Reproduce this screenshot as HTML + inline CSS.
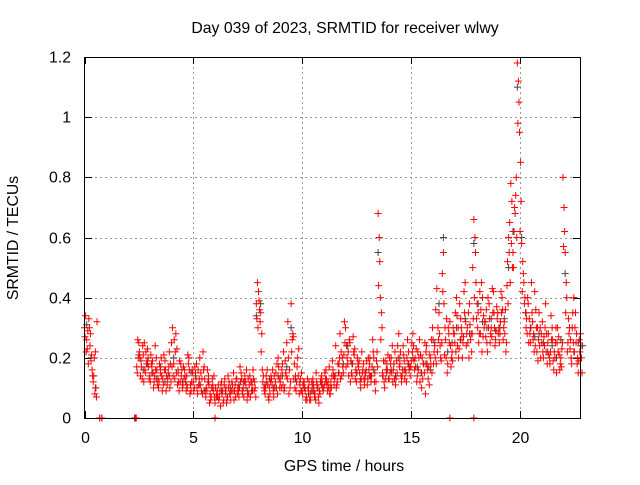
<!DOCTYPE html>
<html><head><meta charset="utf-8"><style>
html,body{margin:0;padding:0;background:#fff;}
svg text{font-family:"Liberation Sans",sans-serif;font-size:15.8px;fill:#000;}
</style></head><body>
<svg id="chart" width="640" height="480">
<rect width="640" height="480" fill="#fff"/>
<text x="345" y="33" text-anchor="middle">Day 039 of 2023, SRMTID for receiver wlwy</text>
<text x="344" y="471" text-anchor="middle">GPS time / hours</text>
<text transform="translate(18,238) rotate(-90)" text-anchor="middle">SRMTID / TECUs</text>
<g id="grid"></g><g id="axes"></g><g id="pts"></g>
<rect x="84.5" y="57.5" width="496" height="361" fill="none" stroke="#000" stroke-width="1"/>
</svg>
<script>
const xTicks=[0,5,10,15,20];
const yTicks=[0,0.2,0.4,0.6,0.8,1,1.2];
const yTickLabels=["0","0.2","0.4","0.6","0.8","1","1.2"];
const zeroTimes=[0.7,0.8,2.33,2.38,6.0,16.8,17.9];
const redA=[0.30,0.26,0.33,0.19,0.12,0.22,null,0,0,null,
null,null,null,null,null,null,null,null,null,null,
null,null,null,0,0.17,0.25,0.19,0.21,0.15,0.23,
0.14,0.17,0.12,0.20,0.10,0.15,0.13,0.19,0.11,0.22,
0.25,0.18,0.28,0.15,0.12,0.10,0.16,0.14,0.20,0.09,
0.12,0.15,0.08,0.20,0.13,0.17,0.10,0.14,0.06,0.11,
0.05,0.09,0.07,0.12,0.06,0.10,0.14,0.08,0.11,0.09,
0.13,0.07,0.15,0.10,0.12,0.08,0.14,0.11,0.09,0.38,
0.42,0.35,0.12,0.08,0.16,0.10,0.13,0.07,0.15,0.20,
0.12,0.18,0.10,0.25,0.08,0.38,0.27,0.14,0.20,0.11,
0.09,0.12,0.07,0.10,0.06,0.13,0.08,0.11,0.09,0.14,
0.10,0.16,0.12,0.08,0.19,0.13,0.11,0.18,0.22,0.15,
0.30,0.18,0.25,0.14,0.21,0.12,0.17,0.10,0.16,0.13,
0.11,0.18,0.14,0.20,0.12,0.68,0.40,0.15,0.10,0.18,
0.13,0.20,0.16,0.11,0.24,0.18,0.14,0.19,0.12,0.22,
0.17,0.28,0.20,0.14,0.26,0.10,0.18,0.22,0.13,0.20,
0.30,0.24,0.43,0.35,0.19,0.55,0.26,0.18,0.32,0.22,
0.28,0.40,0.20,0.33,0.25,0.45,0.30,0.38,0.22,0.66,
0.45,0.35,0.28,0.40,0.32,0.25,0.38,0.30,0.42,0.26,
0.35,0.28,0.40,0.32,0.25,0.60,0.78,0.55,0.68,1.18,
0.95,0.58,0.45,0.30,0.38,0.25,0.32,0.42,0.22,0.35,
0.28,0.20,0.38,0.25,0.18,0.30,0.22,0.15,0.27,0.20,
0.80,0.55,0.22,0.30,0.18,0.40,0.25,0.15,0.28,null];
const redB=[0.22,0.18,0.28,0.14,0.08,0.32,null,null,null,null,
null,null,null,null,null,null,null,null,null,null,
null,null,null,null,0.20,0.14,0.24,0.16,0.19,0.13,
0.18,0.10,0.16,0.13,0.17,0.09,0.16,0.14,0.17,0.12,
0.14,0.22,0.11,0.19,0.16,0.13,0.09,0.18,0.11,0.15,
0.17,0.10,0.13,0.09,0.16,0.07,0.12,0.08,0.13,0.07,
0.08,0.06,0.11,0.05,0.09,0.07,0.08,0.12,0.06,0.13,
0.09,0.12,0.08,0.14,0.06,0.11,0.09,0.13,0.07,0.30,
0.32,0.16,0.09,0.12,0.06,0.14,0.09,0.12,0.08,0.10,
0.16,0.09,0.14,0.20,0.12,0.28,0.10,0.17,0.08,0.15,
0.12,0.06,0.10,0.08,0.11,0.07,0.12,0.05,0.13,0.09,
0.13,0.09,0.08,0.14,0.11,0.10,0.15,0.13,0.17,0.25,
0.20,0.26,0.15,0.22,0.16,0.18,0.12,0.15,0.11,0.19,
0.16,0.12,0.22,0.09,0.17,0.52,0.30,0.12,0.16,0.13,
0.18,0.12,0.22,0.15,0.17,0.12,0.21,0.15,0.18,0.14,
0.22,0.16,0.12,0.20,0.15,0.18,0.08,0.16,0.21,0.15,
0.22,0.18,0.26,0.20,0.42,0.30,0.15,0.25,0.20,0.28,
0.22,0.30,0.26,0.20,0.35,0.28,0.20,0.28,0.33,0.55,
0.30,0.42,0.22,0.30,0.36,0.30,0.28,0.35,0.24,0.33,
0.25,0.35,0.30,0.22,0.38,0.45,0.50,0.70,0.60,1.05,
0.72,0.48,0.35,0.40,0.28,0.35,0.22,0.30,0.26,0.20,
0.22,0.30,0.18,0.20,0.26,0.16,0.30,0.22,0.18,0.25,
0.62,0.40,0.28,0.20,0.25,0.35,0.20,0.22,0.15,null];
const redC=[0.34,0.29,0.24,0.16,0.20,0.07,null,null,null,null,
null,null,null,null,null,null,null,null,null,null,
null,null,null,0,0.26,0.20,0.13,0.25,0.18,0.17,
0.21,0.15,0.24,0.11,0.18,0.14,0.21,0.09,0.15,0.18,
0.30,0.13,0.23,0.09,0.14,0.17,0.12,0.21,0.08,0.16,
0.10,0.18,0.11,0.15,0.22,0.09,0.16,0.05,0.10,0.14,
0.07,0.11,0.04,0.09,0.13,0.06,0.12,0.09,0.15,0.07,
0.10,0.17,0.09,0.12,0.16,0.08,0.12,0.16,0.10,0.45,
0.36,0.28,0.10,0.14,0.07,0.12,0.16,0.10,0.18,0.13,
0.10,0.22,0.15,0.32,0.10,0.26,0.18,0.12,0.23,0.09,
0.11,0.09,0.13,0.06,0.12,0.09,0.15,0.07,0.12,0.10,
0.15,0.11,0.17,0.10,0.14,0.24,0.18,0.28,0.20,0.32,
0.24,0.14,0.19,0.27,0.13,0.20,0.15,0.22,0.13,0.16,
0.20,0.14,0.26,0.15,0.22,0.60,0.35,0.19,0.13,0.21,
0.15,0.24,0.13,0.19,0.28,0.14,0.24,0.16,0.26,0.17,
0.25,0.19,0.23,0.16,0.21,0.13,0.25,0.18,0.11,0.26,
0.18,0.36,0.30,0.24,0.48,0.21,0.33,0.28,0.17,0.30,
0.35,0.24,0.38,0.28,0.42,0.24,0.35,0.26,0.50,0.60,
0.38,0.28,0.45,0.34,0.27,0.40,0.25,0.43,0.30,0.37,
0.30,0.42,0.26,0.36,0.52,0.65,0.72,0.62,0.80,1.12,
0.85,0.52,0.40,0.28,0.33,0.45,0.28,0.36,0.19,0.30,
0.32,0.24,0.28,0.21,0.34,0.19,0.25,0.30,0.16,0.23,
0.70,0.45,0.33,0.26,0.35,0.30,0.18,0.26,0.20,null];
const redD=[0.27,0.23,0.30,0.21,0.14,0.10,null,null,null,null,
null,null,null,null,null,null,null,null,null,null,
null,null,null,null,0.15,0.22,0.17,0.12,0.22,0.20,
0.12,0.19,0.14,0.16,0.12,0.20,0.11,0.16,0.13,0.10,
0.17,0.26,0.15,0.12,0.18,0.11,0.14,0.10,0.16,0.12,
0.09,0.13,0.16,0.11,0.08,0.13,0.09,0.11,0.07,0.09,
0.10,0.07,0.09,0.08,0.11,0.05,0.10,0.06,0.09,0.11,
0.08,0.10,0.13,0.07,0.10,0.13,0.07,0.09,0.12,0.33,
0.39,0.22,0.14,0.10,0.11,0.08,0.11,0.14,0.10,0.17,
0.14,0.11,0.19,0.13,0.16,0.22,0.13,0.09,0.14,0.13,
0.08,0.10,0.06,0.12,0.09,0.11,0.06,0.10,0.08,0.12,
0.11,0.13,0.10,0.12,0.16,0.14,0.12,0.20,0.14,0.21,
0.17,0.22,0.12,0.18,0.23,0.15,0.19,0.13,0.18,0.15,
0.13,0.20,0.17,0.12,0.19,0.44,0.26,0.14,0.19,0.16,
0.20,0.15,0.18,0.13,0.20,0.22,0.16,0.13,0.20,0.16,
0.19,0.24,0.17,0.22,0.12,0.20,0.15,0.24,0.17,0.18,
0.26,0.20,0.22,0.28,0.25,0.38,0.20,0.30,0.24,0.19,
0.25,0.34,0.23,0.30,0.27,0.32,0.25,0.31,0.28,0.40,
0.33,0.25,0.36,0.27,0.32,0.22,0.33,0.27,0.35,0.29,
0.28,0.32,0.36,0.28,0.44,0.55,0.58,0.50,0.74,0.98,
0.62,0.42,0.38,0.33,0.25,0.30,0.26,0.24,0.30,0.24,
0.25,0.27,0.22,0.28,0.22,0.26,0.20,0.25,0.21,0.17,
0.57,0.35,0.25,0.23,0.30,0.22,0.28,0.19,0.24,null];
const grayC=[0.31,0.20,0.10,null,null,null,null,null,null,null,
null,null,0.21,0.16,0.18,0.15,0.13,0.17,0.12,0.14,
0.20,0.16,0.12,0.11,0.15,0.14,0.11,0.09,0.12,0.10,
0.07,0.09,0.08,0.10,0.09,0.11,0.12,0.09,0.12,0.34,
0.38,0.11,0.13,0.10,0.14,0.14,0.17,0.30,0.13,0.12,
0.10,0.08,0.09,0.10,0.11,0.12,0.10,0.14,0.15,0.18,
0.24,0.18,0.15,0.13,0.15,0.14,0.16,0.55,0.14,0.15,
0.16,0.14,0.20,0.16,0.18,0.20,0.17,0.15,0.18,0.16,
0.25,0.38,0.60,0.22,0.25,0.30,0.26,0.33,0.28,0.58,
0.38,0.32,0.30,0.33,0.29,0.30,0.33,0.50,0.62,1.10,
0.60,0.35,0.30,0.27,0.28,0.25,0.22,0.24,0.20,0.26,
0.48,0.30,0.22,0.25,0.24];
const stepA=0.1, stepC=0.2;
const X0=84.5,PX=21.75,Y0=418,PY=300.8;
const xs=v=>X0+v*PX, ys=v=>Y0-v*PY;
const NS="http://www.w3.org/2000/svg";
const grid=document.getElementById('grid'),axes=document.getElementById('axes'),pts=document.getElementById('pts');
function mk(tag,at,parent){const e=document.createElementNS(NS,tag);for(const k in at)e.setAttribute(k,at[k]);parent.appendChild(e);return e;}
xTicks.forEach(t=>{const x=Math.round(xs(t))+0.5;
 if(t>0){const g=mk('line',{x1:x,x2:x,y1:57,y2:418,stroke:'#999','stroke-dasharray':'2,3'},grid);
 
 }
 mk('line',{x1:x,x2:x,y1:418,y2:411,stroke:'#000'},axes);
 mk('line',{x1:x,x2:x,y1:57,y2:64,stroke:'#000'},axes);
 const tx=mk('text',{x:x,y:443,'text-anchor':'middle'},axes);tx.textContent=t;
 
 });
yTicks.forEach((t,i)=>{const y=Math.round(ys(t))+0.5;
 if(t>0&&t<1.2){const g=mk('line',{x1:85,x2:580,y1:y,y2:y,stroke:'#999','stroke-dasharray':'2,3'},grid);
 
 }
 mk('line',{x1:85,x2:92,y1:y,y2:y,stroke:'#000'},axes);
 mk('line',{x1:580,x2:573,y1:y,y2:y,stroke:'#000'},axes);
 const tx=mk('text',{x:71,y:y+5,'text-anchor':'end'},axes);tx.textContent=yTickLabels[i];
 
 });
function plot(arr,step,off,color,name){let d='';
 arr.forEach((v,i)=>{if(v===null)return;const x=xs(i*step+off),y=ys(v);
 d+=`M${x-3.5} ${y}h7M${x} ${y-3.5}v7`;});
 const p=mk('path',{d:d,stroke:color,'stroke-width':1,fill:'none'},pts);
 
 }
plot(grayC,stepC,0.1,'#444','series-gray-points');
plot(redD,stepA,0.025,'#f00','series-red-points-d');
plot(redB,stepA,0.075,'#f00','series-red-points-b');
plot(redC,stepA,0.05,'#f00','series-red-points-c');
plot(redA,stepA,0,'#f00','series-red-points-a');
let zd='';
zeroTimes.forEach(t=>{const x=xs(t),y=ys(0);zd+=`M${x-3.5} ${y}h7M${x} ${y-3.5}v7`;});
const zp=mk('path',{d:zd,stroke:'#f00','stroke-width':1,fill:'none'},pts);


</script>
</body></html>
